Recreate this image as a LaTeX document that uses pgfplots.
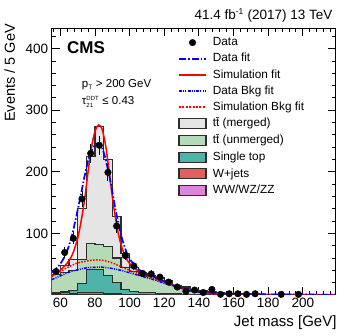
\documentclass[border=0pt]{standalone}
\usepackage{fontspec}
\setmainfont{Liberation Sans}
\usepackage{pgfplots}
\usepackage{pgfplotstable}
\pgfplotsset{compat=1.18}

\definecolor{ttmerged}{RGB}{229,229,229}
\definecolor{ttunmerged}{RGB}{180,218,182}
\definecolor{singletop}{RGB}{78,180,170}
\definecolor{wjets}{RGB}{222,96,96}
\definecolor{vv}{RGB}{222,132,222}
\definecolor{histline}{RGB}{45,45,45}
\definecolor{fitred}{RGB}{255,0,0}
\definecolor{fitblue}{RGB}{0,0,255}

% cumulative stack heights, bin left edges (5 GeV bins)
\pgfplotstableread{
edge vv  wj  st  ttu tot
55  0.8 3.0 4.0 33  40
60  0.8 4.5 5.0 37  48
65  0.8 2.5 8.0 40  58
70  0.8 4.0 19  57  140
75  0.8 4.5 41  84  225
80  0.8 4.5 42  82  274
85  0.8 3.0 32  78  220
90  0.8 2.0 20  60  127
95  0.8 1.5 9.0 45  68
100 0.5 1.0 6.0 38  45
105 0.5 1.0 4.0 32  37
110 0.3 0.5 3.5 30  32
115 0.3 0.5 3.0 27  28
120 0.3 0.5 2.5 22  23
125 0.3 0.5 2.0 15  16
130 0.3 0.5 1.5 10  13
135 0.3 0.5 1.0 8   9
140 0.3 0.4 0.7 6   7
145 0.2 0.4 0.6 4   5
150 0.2 0.3 0.5 3   3.5
155 0.2 0.3 0.5 2   2.5
160 0.2 0.3 0.4 2   2.2
165 0.2 0.3 0.4 1.5 1.7
170 0.2 0.3 0.4 1.2 1.4
175 0.2 0.3 0.4 1.0 1.2
180 0.2 0.3 0.4 1.0 1.1
185 0.2 0.3 0.4 0.9 1.0
190 0.2 0.3 0.4 0.8 0.9
195 0.2 0.3 0.4 0.7 0.8
200 0.2 0.3 0.4 0.6 0.7
205 0.2 0.3 0.4 0.5 0.6
210 0.2 0.3 0.4 0.5 0.6
215 0.2 0.3 0.4 0.5 0.6
220 0.2 0.3 0.4 0.5 0.6
}\hist

\pgfplotstableread{
x     y   e
57.5  38  6.2
62.5  69  8.3
67.5  92  9.6
72.5  156 12.5
77.5  230 15.2
82.5  243 15.6
87.5  199 14.1
92.5  112 10.6
97.5  64  8.0
102.5 47  6.9
107.5 35  5.9
112.5 34  5.8
117.5 29  5.4
122.5 21  4.6
127.5 13  3.6
132.5 6   2.4
137.5 8   2.8
142.5 4   2.0
147.5 9   3.0
152.5 1   1.0
157.5 2   1.4
162.5 2   1.4
167.5 1   1.0
172.5 2   1.4
187.5 1   1.0
197.5 1   1.0
}\data

\tikzset{
  bkgblue/.style={draw=fitblue, line width=1.5pt, dash pattern=on 3pt off 1.2pt on 1pt off 1.2pt on 1pt off 1.2pt},
  bkgred/.style={draw=fitred, line width=1.5pt, dash pattern=on 1.5pt off 1.5pt},
  datafit/.style={draw=fitblue, line width=1.7pt, dash pattern=on 7pt off 2pt on 1.5pt off 2pt},
  simfit/.style={draw=fitred, line width=1.5pt},
}

\begin{document}
\begin{tikzpicture}
\useasboundingbox (-51.7pt,-41pt) rectangle (297.3pt,295pt);
\begin{axis}[
  at={(0,0)}, anchor=south west,
  scale only axis, width=284pt, height=266.7pt,
  xmin=55, xmax=219, ymin=0, ymax=433,
  xtick={60,80,...,200}, minor xtick={56,60,...,216},
  ytick={100,200,300,400}, minor ytick={20,40,...,420},
  tick align=inside, major tick length=8pt, minor tick length=4pt,
  tick style={black, line width=0.8pt},
  axis line style={line width=1pt},
  /pgf/number format/assume math mode=true,
  tick label style={font=\fontsize{13.5}{13.5}\selectfont},
  legend style={at={(0.4447,0.967)}, anchor=north west, draw=none, fill=none,
    inner sep=0pt, row sep=5.6pt, column sep=6pt,
    font=\fontsize{11.8}{11.8}\selectfont,
    nodes={inner sep=0pt, text height=8.4pt, text depth=2.2pt}},
  legend cell align=left,
]
% stacked simulation
\addplot[const plot, fill=ttmerged, draw=histline, line width=1.1pt, forget plot] table[x=edge,y=tot] {\hist} \closedcycle;
\addplot[const plot, fill=ttunmerged, draw=histline, line width=1.1pt, forget plot] table[x=edge,y=ttu] {\hist} \closedcycle;
\addplot[const plot, fill=singletop, draw=histline, line width=1.1pt, forget plot] table[x=edge,y=st] {\hist} \closedcycle;
\addplot[const plot, fill=wjets, draw=histline, line width=0.8pt, forget plot] table[x=edge,y=wj] {\hist} \closedcycle;
\addplot[const plot, fill=vv, draw=histline, line width=0.6pt, forget plot] table[x=edge,y=vv] {\hist} \closedcycle;

% background fits
\addplot[smooth, bkgred, forget plot] coordinates {
(55,30) (60,38) (65,46) (70,52) (75,55) (80,57) (85,56) (90,52) (95,46) (100,40)
(105,35) (110,30) (115,25) (120,20) (125,15) (130,11) (135,7) (140,5) (150,2) (160,1) (180,0.6) (220,0.3)};
\addplot[smooth, bkgblue, forget plot] coordinates {
(55,25) (60,31) (65,37) (70,41) (75,44) (80,45) (85,45) (90,43) (95,40) (100,36)
(105,32) (110,28) (115,24) (120,19) (125,15) (130,11) (135,7) (140,5) (150,2) (160,1) (180,0.8) (220,0.5)};
% signal+background fits
\addplot[smooth, simfit, forget plot] coordinates {
(55,31) (58,36) (61,43) (64,52) (67,66) (70,92) (72,120) (74,155) (76,200) (78,240)
(80,266) (82,276) (84,270) (86,245) (88,205) (90,160) (92,122) (94,93) (96,73) (98,60)
(100,51) (104,41) (108,36) (112,32) (116,28) (120,22) (125,16) (130,11) (135,7) (140,4)
(150,2) (160,1) (180,0.5) (220,0.3)};
\addplot[smooth, datafit, forget plot] coordinates {
(55,37) (58,44) (61,55) (64,72) (67,100) (70,138) (72,165) (74,193) (76,218) (78,235)
(80,244) (82,246) (84,240) (86,222) (88,197) (90,168) (92,137) (94,110) (96,88) (98,71)
(100,59) (104,44) (108,37) (112,32) (116,27) (120,22) (125,16) (130,11) (135,7) (140,5)
(150,3) (160,2) (180,1) (220,0.5)};
% data
\addplot[only marks, mark=*, mark size=3.3pt, black, forget plot,
  error bars/.cd, y dir=both, y explicit, error bar style={line width=1pt}, error mark=none]
  table[x=x, y=y, y error=e] {\data};

% legend
\addlegendimage{legend image code/.code={\fill[black] (13.5pt,0pt) circle (3.3pt);}}
\addlegendentry{Data}
\addlegendimage{legend image code/.code={\path[datafit] (0pt,0pt) -- (27pt,0pt);}}
\addlegendentry{Data fit}
\addlegendimage{legend image code/.code={\path[simfit] (0pt,0pt) -- (27pt,0pt);}}
\addlegendentry{Simulation fit}
\addlegendimage{legend image code/.code={\path[bkgblue] (0pt,0pt) -- (27pt,0pt);}}
\addlegendentry{Data Bkg fit}
\addlegendimage{legend image code/.code={\path[bkgred, line width=1.6pt, dash pattern=on 2pt off 1.4pt] (0pt,0.3pt) -- (27pt,0.3pt);}}
\addlegendentry{Simulation Bkg fit}
\addlegendimage{legend image code/.code={\draw[fill=ttmerged, draw=histline, line width=1.1pt] (0pt,-5pt) rectangle (27pt,5pt);}}
\addlegendentry{t\={t} (merged)}
\addlegendimage{legend image code/.code={\draw[fill=ttunmerged, draw=histline, line width=1.1pt] (0pt,-5pt) rectangle (27pt,5pt);}}
\addlegendentry{t\={t} (unmerged)}
\addlegendimage{legend image code/.code={\draw[fill=singletop, draw=histline, line width=1.1pt] (0pt,-5pt) rectangle (27pt,5pt);}}
\addlegendentry{Single top}
\addlegendimage{legend image code/.code={\draw[fill=wjets, draw=histline, line width=1.1pt] (0pt,-5pt) rectangle (27pt,5pt);}}
\addlegendentry{W+jets}
\addlegendimage{legend image code/.code={\draw[fill=vv, draw=histline, line width=1.1pt] (0pt,-5pt) rectangle (27pt,5pt);}}
\addlegendentry{WW/WZ/ZZ}
\end{axis}

\node[anchor=base west, inner sep=0pt, font=\fontsize{17}{17}\selectfont\bfseries] at (15.3pt,241pt) {CMS};
\node[anchor=base west, inner sep=0pt, font=\fontsize{11.5}{11.5}\selectfont] at (30pt,207.3pt)
  {p$_{\mbox{\fontsize{6.5}{6.5}\selectfont T}}$ > 200 GeV};
\node[anchor=base west, inner sep=0pt, font=\fontsize{11.5}{11.5}\selectfont] at (30pt,190.5pt)
  {\mbox{τ}$_{\mbox{\fontsize{6}{6}\selectfont 21}}^{\mbox{\fontsize{6}{6}\selectfont DDT}}$ ≤ 0.43};
\node[anchor=base east, inner sep=0pt, font=\fontsize{13.5}{13.5}\selectfont] at (281pt,275pt)
  {41.4 fb$^{\mbox{\fontsize{8.5}{8.5}\selectfont -1}}$ (2017) 13 TeV};
\node[anchor=base east, inner sep=0pt, rotate=90, font=\fontsize{14.5}{14.5}\selectfont] at (-36.7pt,271pt)
  {Events / 5 GeV};
\node[anchor=base east, inner sep=0pt, font=\fontsize{15}{15}\selectfont] at (285pt,-31.7pt)
  {Jet mass [GeV]};
\end{tikzpicture}
\end{document}
